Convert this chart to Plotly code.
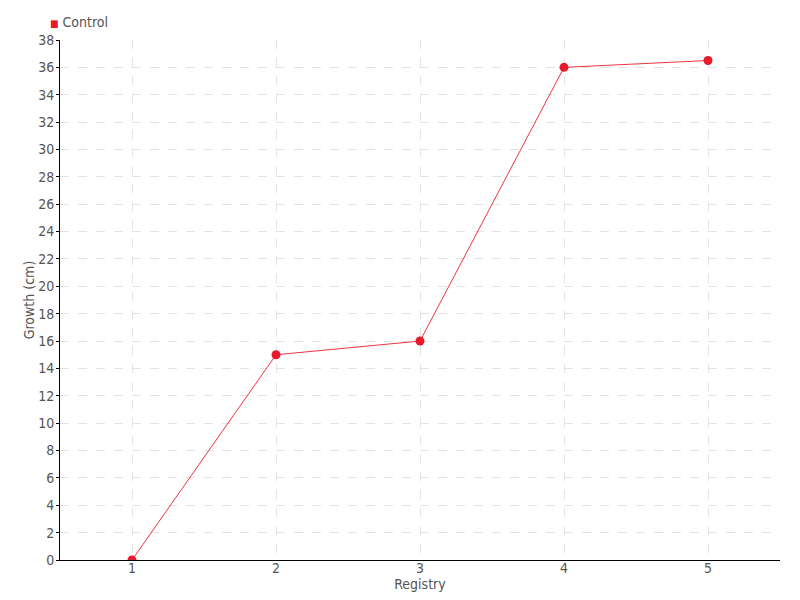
import plotly.graph_objects as go

registry = [1, 2, 3, 4, 5]
growth = [0, 15, 16, 36, 36.5]

font_family = "DejaVu Sans Condensed, Liberation Sans Narrow, Arial Narrow, sans-serif"
red = '#e8192c'

fig = go.Figure()
fig.add_trace(go.Scatter(
    x=registry, y=growth,
    mode='lines+markers',
    name='Control',
    line=dict(color='#f0343f', width=1),
    marker=dict(color=red, size=9, symbol='circle'),
    showlegend=False,
))

# legend-like label at top left (small red square + series name)
fig.add_annotation(
    xref='paper', yref='paper', x=-0.017, y=1.0, xanchor='left', yanchor='bottom',
    yshift=8, showarrow=False,
    text=f'<span style="color:{red};font-size:10px">■</span> Control',
    font=dict(size=14, color='#555555'),
)

# page body has an 8px margin, so the figure is sized/offset to compensate
fig.update_layout(
    width=792, height=592,
    paper_bgcolor='white', plot_bgcolor='white',
    margin=dict(l=52, r=20, t=32, b=40, autoexpand=False),
    font=dict(family=font_family, color='#555555', size=14),
    xaxis=dict(
        title=dict(text='Registry', standoff=0, font=dict(size=14)),
        range=[0.5, 5.5], tickvals=registry, ticktext=[str(v) for v in registry],
        showline=True, linecolor='black', linewidth=1,
        ticks='', ticklabelstandoff=-5,
        showgrid=True, gridcolor='#e3e3e3', griddash='dash',
        zeroline=False,
    ),
    yaxis=dict(
        title=dict(text='Growth (cm)', standoff=0, font=dict(size=14)),
        range=[0, 38], dtick=2,
        showline=True, linecolor='black', linewidth=1,
        ticks='outside', ticklen=3, tickcolor='black', ticklabelstandoff=-1,
        showgrid=True, gridcolor='#e3e3e3', griddash='dash',
        zeroline=False,
    ),
)

fig.write_html("out.html")
